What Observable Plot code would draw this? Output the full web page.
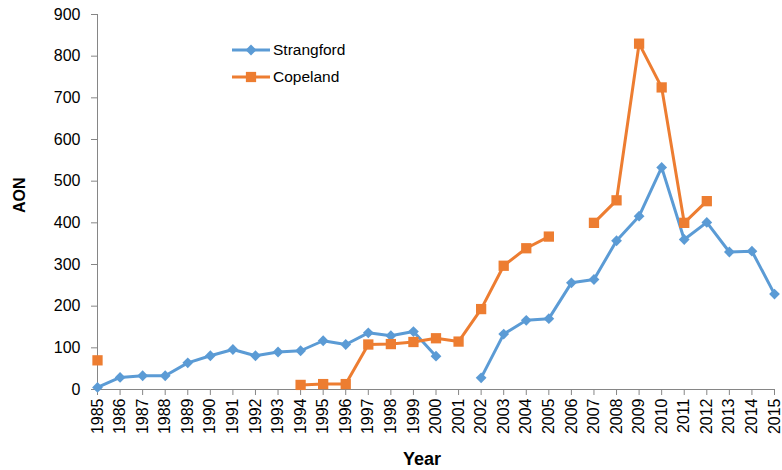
<!DOCTYPE html>
<html>
<head>
<meta charset="utf-8">
<script src="https://cdn.jsdelivr.net/npm/d3@7"></script>
<script src="https://cdn.jsdelivr.net/npm/@observablehq/plot@0.6"></script>
<style>
  html, body { margin: 0; padding: 0; background: #fff; }
  #chart { position: relative; width: 782px; height: 470px; }
  #legend { position: absolute; left: 232px; top: 36px; font-family: "Liberation Sans", Arial, sans-serif; font-size: 15.5px; color: #000; }
  #legend .item { display: flex; align-items: center; height: 27px; }
  #legend svg { margin-right: 3px; }
</style>
</head>
<body>
<div id="chart"></div>
<script>
const years = [1985,1986,1987,1988,1989,1990,1991,1992,1993,1994,1995,1996,1997,1998,1999,2000,
               2001,2002,2003,2004,2005,2006,2007,2008,2009,2010,2011,2012,2013,2014,2015];
const strangford = [5,29,33,33,64,81,96,81,90,93,117,108,136,129,139,80,
                    null,28,133,166,170,256,264,357,416,533,360,401,330,332,229];
const copeland = [70,null,null,null,null,null,null,null,null,11,13,13,108,109,114,123,
                  115,193,297,339,367,null,400,454,830,725,400,452,null,null,null];
const seriesNames = ["Strangford", "Copeland"];
const seriesColors = ["#5B9BD5", "#ED7D31"];
const yTicks = [0,100,200,300,400,500,600,700,800,900];

const rows = [];
[strangford, copeland].forEach((vals, i) => {
  years.forEach((yr, j) => rows.push({series: seriesNames[i], year: yr, value: vals[j]}));
});
const sData = rows.filter(d => d.series === "Strangford");
const cData = rows.filter(d => d.series === "Copeland");

const axisColor = "#868686";
const plot = Plot.plot({
  width: 782,
  height: 470,
  marginLeft: 97,
  marginRight: 8,
  marginTop: 14,
  marginBottom: 81,
  style: {fontFamily: "'Liberation Sans', Arial, sans-serif", fontSize: "16px", color: "#000", background: "#fff"},
  x: {domain: [1985, 2015], label: null},
  y: {domain: [0, 900], label: null},
  marks: [
    Plot.axisY({ticks: yTicks, tickSize: 6, tickPadding: 11, stroke: axisColor, fill: "#000", label: null, fontSize: 16}),
    Plot.axisX({ticks: years, tickFormat: d => String(d), tickSize: 6, tickPadding: 3, tickRotate: -90, stroke: axisColor, fill: "#000", label: null, fontSize: 16}),
    Plot.ruleX([1985], {y1: 0, y2: 900, stroke: axisColor, strokeWidth: 1}),
    Plot.ruleY([0], {x1: 1985, x2: 2015, stroke: axisColor, strokeWidth: 1}),
    Plot.line(sData, {x: "year", y: "value", stroke: seriesColors[0], strokeWidth: 3}),
    Plot.dot(sData.filter(d => d.value != null), {x: "year", y: "value", symbol: "square", rotate: 45, fill: seriesColors[0], r: 4.3}),
    Plot.line(cData, {x: "year", y: "value", stroke: seriesColors[1], strokeWidth: 3}),
    Plot.dot(cData.filter(d => d.value != null), {x: "year", y: "value", symbol: "square", fill: seriesColors[1], r: 5.8}),
    Plot.text(["AON"], {frameAnchor: "left", rotate: -90, dx: -78, dy: 11, fontWeight: "bold", fontSize: 16, fill: "#000"}),
    Plot.text(["Year"], {frameAnchor: "bottom", dy: 75, dx: -14, fontWeight: "bold", fontSize: 18, fill: "#000"})
  ]
});
document.getElementById("chart").appendChild(plot);

// legend
const legend = document.createElement("div");
legend.id = "legend";
seriesNames.forEach((name, i) => {
  const item = document.createElement("div");
  item.className = "item";
  const sym = d3.symbol(d3.symbolSquare, i === 1 ? 105 : 58)();
  const rot = i === 0 ? " rotate(45)" : "";
  item.innerHTML = `<svg width="38" height="14"><line x1="0" x2="38" y1="7" y2="7" stroke="${seriesColors[i]}" stroke-width="3"/><path d="${sym}" transform="translate(19,7)${rot}" fill="${seriesColors[i]}"/></svg><span>${name}</span>`;
  legend.appendChild(item);
});
document.getElementById("chart").appendChild(legend);
</script>
</body>
</html>
